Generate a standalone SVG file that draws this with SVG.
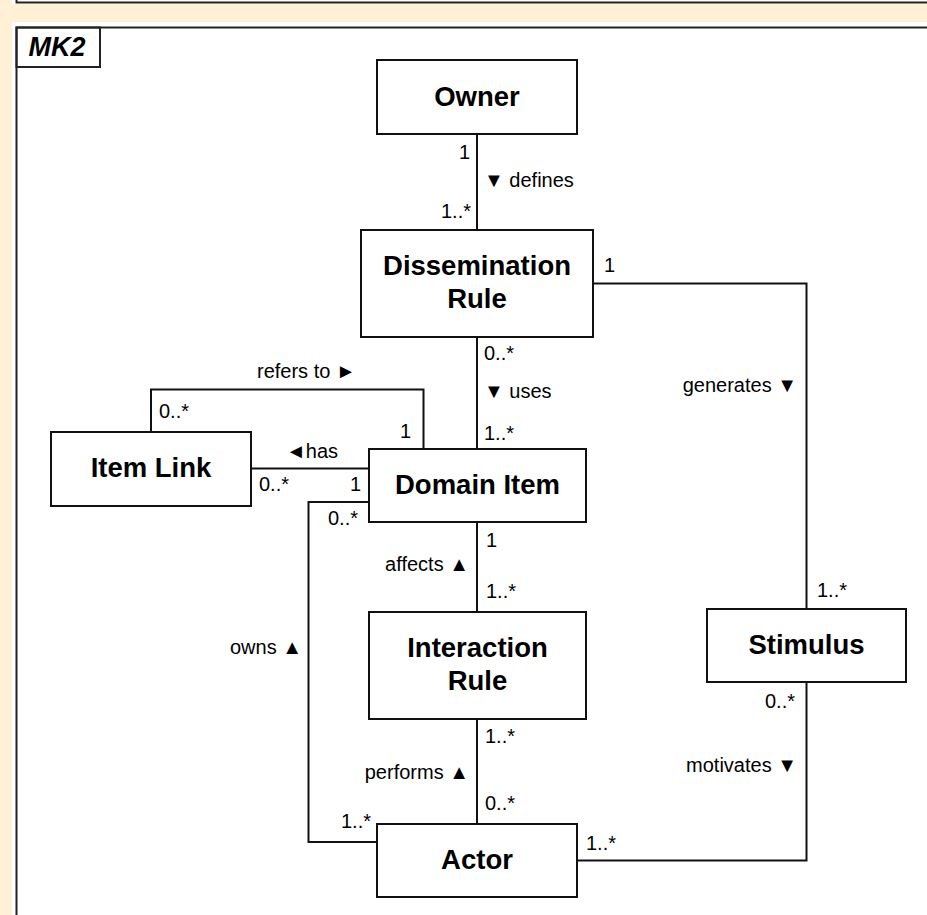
<svg xmlns="http://www.w3.org/2000/svg" width="927" height="915" viewBox="0 0 927 915">
<defs>
<style>
.bg{fill:#fff0d6}
.frame{fill:none;stroke:#222;stroke-width:2}
.box{fill:#fff;stroke:#111;stroke-width:2}
.t{font-family:"Liberation Sans",Arial,sans-serif;font-weight:bold;font-size:27.5px;fill:#000;text-anchor:middle}
.l{font-family:"Liberation Sans",Arial,sans-serif;font-size:20px;fill:#000}
.e{text-anchor:end}
.c{fill:none;stroke:#111;stroke-width:2}
</style>
</defs>
<rect class="bg" x="0" y="0" width="927" height="915"/>
<rect x="12" y="-20" width="930" height="24" fill="#fff"/>
<path class="frame" d="M16.5,-5 V2.5 H930"/>
<rect x="12" y="22" width="930" height="900" fill="#fff"/>
<rect class="frame" x="16.5" y="27.5" width="920" height="900"/>
<g id="frame-label">
<rect class="frame" x="16.5" y="27.5" width="83.5" height="39.5"/>
<text x="57" y="56" font-family="'Liberation Sans',Arial,sans-serif" font-weight="bold" font-style="italic" font-size="27" text-anchor="middle">MK2</text>
</g>
<g id="connectors">
<path class="c" d="M477,134 V230"/>
<path class="c" d="M593,283.5 H806.5 V609"/>
<path class="c" d="M477,337 V449"/>
<path class="c" d="M151,432 V389.5 H423.5 V449"/>
<path class="c" d="M251,468.5 H369"/>
<path class="c" d="M369,502 H308.5 V842 H377"/>
<path class="c" d="M477,522 V612"/>
<path class="c" d="M477,719 V824"/>
<path class="c" d="M577,860.5 H806.5 V682"/>
<text class="l e" x="470" y="159">1</text>
<text class="l" x="484" y="187">▼ defines</text>
<text class="l e" x="471" y="218">1..*</text>
<text class="l" x="604" y="272">1</text>
<text class="l e" x="797" y="392">generates ▼</text>
<text class="l" x="484" y="360">0..*</text>
<text class="l" x="484" y="398">▼ uses</text>
<text class="l" x="484" y="440">1..*</text>
<text class="l" x="257" y="378">refers to ►</text>
<text class="l" x="159" y="418">0..*</text>
<text class="l e" x="411" y="438">1</text>
<text class="l" x="286" y="458">◄has</text>
<text class="l" x="259" y="491">0..*</text>
<text class="l e" x="361" y="491">1</text>
<text class="l" x="328" y="525">0..*</text>
<text class="l" x="486" y="547">1</text>
<text class="l e" x="469" y="571">affects ▲</text>
<text class="l" x="486" y="598">1..*</text>
<text class="l e" x="302" y="654">owns ▲</text>
<text class="l" x="817" y="597">1..*</text>
<text class="l e" x="795" y="708">0..*</text>
<text class="l e" x="797" y="772">motivates ▼</text>
<text class="l" x="485" y="743">1..*</text>
<text class="l e" x="469" y="779">performs ▲</text>
<text class="l" x="485" y="810">0..*</text>
<text class="l e" x="371" y="828">1..*</text>
<text class="l" x="586" y="850">1..*</text>
</g>
<g id="owner">
<rect class="box" x="377" y="60" width="200" height="74"/>
<text class="t" x="477" y="106">Owner</text>
</g>
<g id="dissemination-rule">
<rect class="box" x="361" y="230" width="232" height="107"/>
<text class="t" x="477" y="275">Dissemination</text>
<text class="t" x="477" y="308">Rule</text>
</g>
<g id="item-link">
<rect class="box" x="51" y="432" width="200" height="74"/>
<text class="t" x="151" y="477">Item Link</text>
</g>
<g id="domain-item">
<rect class="box" x="369" y="449" width="217" height="73"/>
<text class="t" x="477.5" y="494">Domain Item</text>
</g>
<g id="interaction-rule">
<rect class="box" x="369" y="612" width="217" height="107"/>
<text class="t" x="477.5" y="657">Interaction</text>
<text class="t" x="477.5" y="690">Rule</text>
</g>
<g id="stimulus">
<rect class="box" x="707" y="609" width="199" height="73"/>
<text class="t" x="806.5" y="654">Stimulus</text>
</g>
<g id="actor">
<rect class="box" x="377" y="824" width="200" height="73"/>
<text class="t" x="477" y="869">Actor</text>
</g>
</svg>
